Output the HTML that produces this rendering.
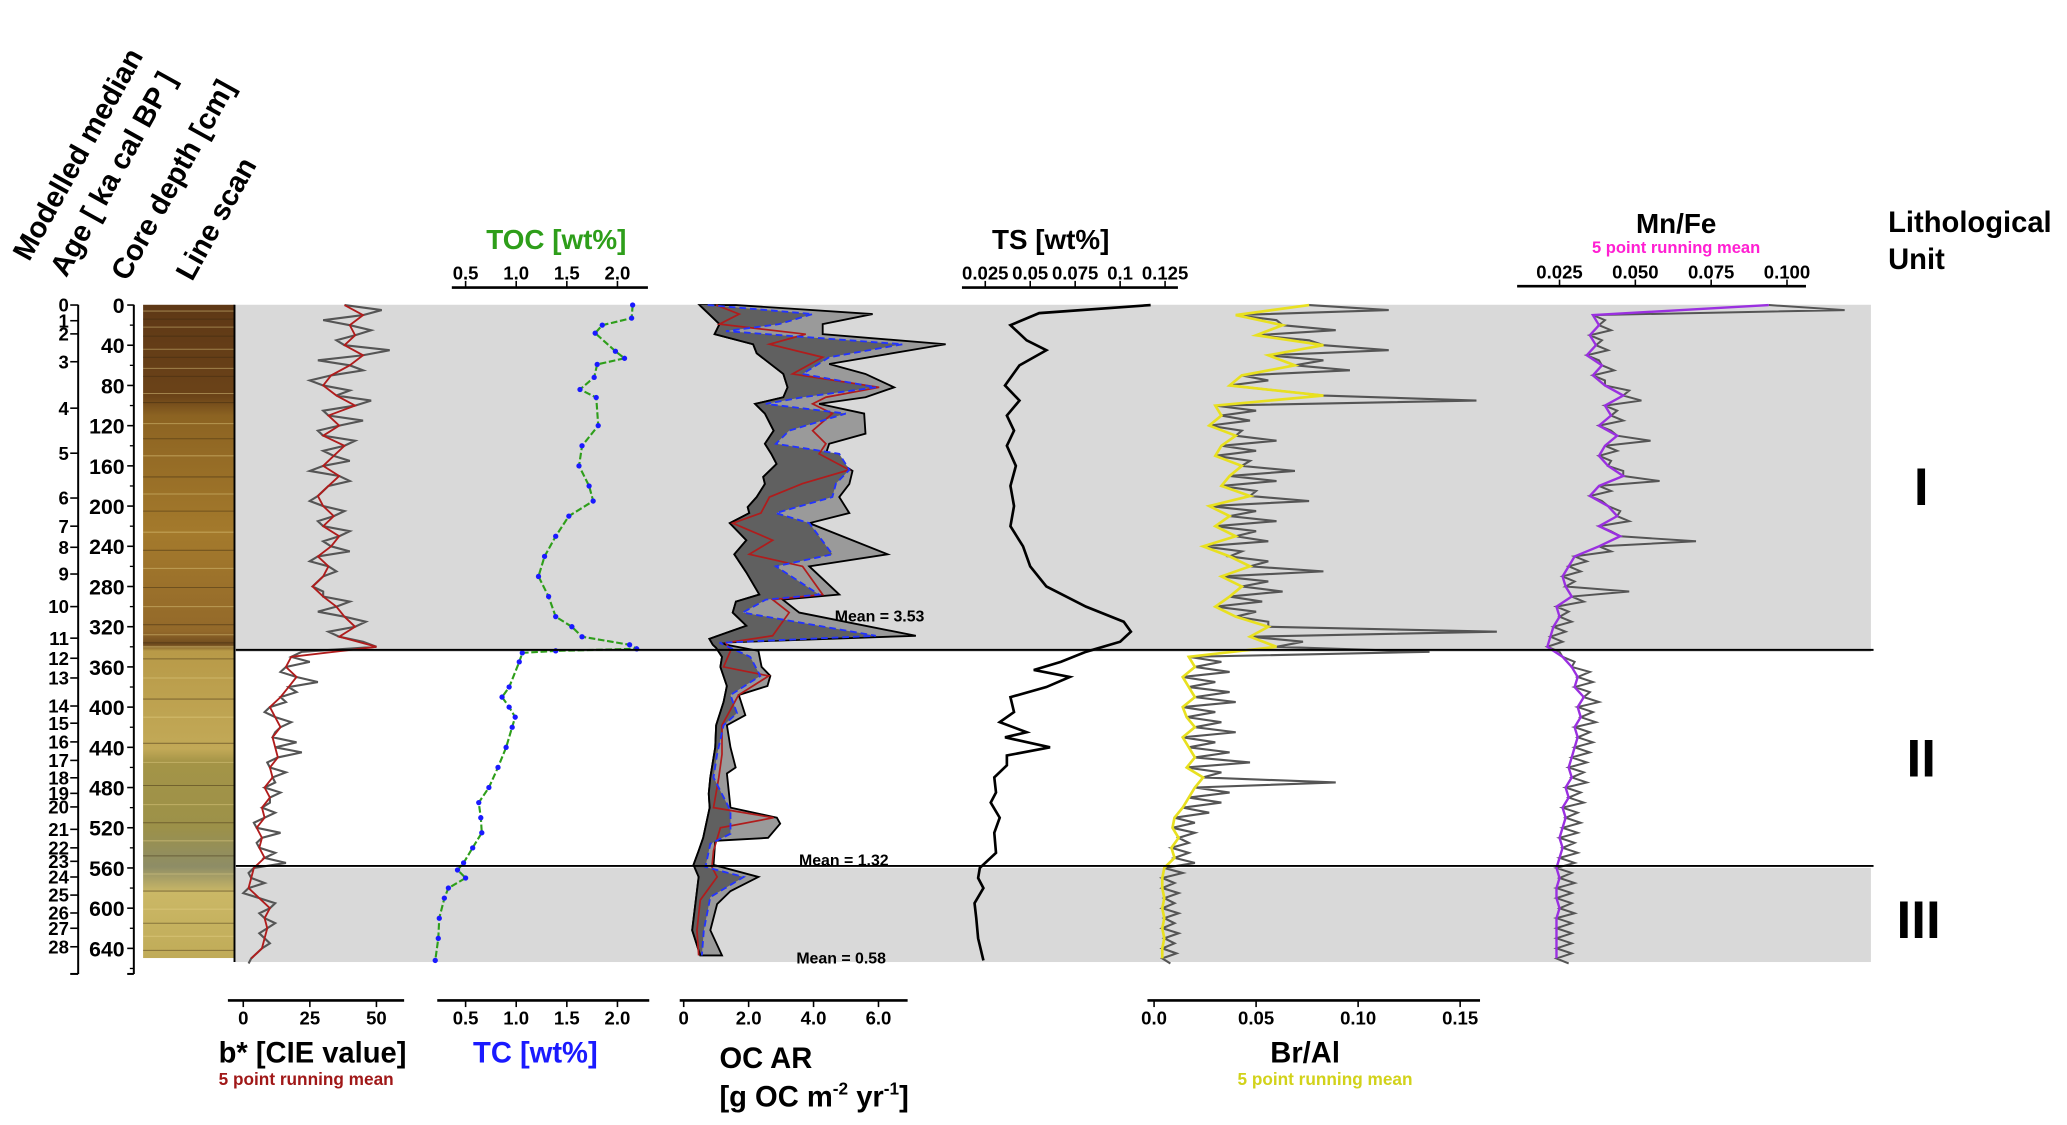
<!DOCTYPE html>
<html><head><meta charset="utf-8"><style>
html,body{margin:0;padding:0;background:#fff}
svg{display:block;font-family:"Liberation Sans",Arial,sans-serif;font-weight:bold}
</style></head><body>
<svg id="chart" width="2067" height="1125" viewBox="0 0 1560 849" preserveAspectRatio="none" xmlns="http://www.w3.org/2000/svg">
<defs>
<linearGradient id="scanGrad" x1="0" y1="0" x2="0" y2="1">
<stop offset="0" stop-color="#5e3816"/><stop offset="0.14" stop-color="#6b4318"/><stop offset="0.17" stop-color="#8c6322"/>
<stop offset="0.35" stop-color="#a47a2c"/><stop offset="0.5" stop-color="#93692a"/><stop offset="0.52" stop-color="#6e4a1e"/>
<stop offset="0.53" stop-color="#b89a48"/><stop offset="0.68" stop-color="#c2a957"/><stop offset="0.7" stop-color="#a49447"/>
<stop offset="0.8" stop-color="#9c9149"/><stop offset="0.86" stop-color="#8e8d66"/><stop offset="0.9" stop-color="#cbb866"/><stop offset="1" stop-color="#c0ab58"/>
</linearGradient>
</defs>
<g id="static">
<rect x="178" y="230" width="1234" height="262" fill="#d9d9d9"/>
<rect x="178" y="655" width="1234" height="71" fill="#d9d9d9"/>
<rect x="108" y="230" width="69" height="493" fill="url(#scanGrad)"/>
<g id="scanStripes"></g>
<line x1="177" y1="230" x2="177" y2="726" stroke="#000" stroke-width="1.5"/>

<g font-size="22" fill="#000">
<text transform="translate(22,198) rotate(-61)">Modelled median</text>
<text transform="translate(50,210) rotate(-61)">Age [ ka cal BP ]</text>
<text transform="translate(96,213) rotate(-61)">Core depth [cm]</text>
<text transform="translate(145,213) rotate(-61)">Line scan</text>
</g>
<text x="367" y="188" font-size="21" fill="#2e9e1a">TOC [wt%]</text>
<text x="793" y="188" font-size="21" text-anchor="middle">TS [wt%]</text>
<text x="1265" y="176" font-size="21" text-anchor="middle">Mn/Fe</text>
<text x="1265" y="191" font-size="12.5" text-anchor="middle" fill="#ff1fd2">5 point running mean</text>
<text x="1425" y="175" font-size="22">Lithological</text>
<text x="1425" y="203" font-size="22">Unit</text>
<text x="1450" y="381" font-size="40" text-anchor="middle">I</text>
<text x="1450" y="586" font-size="40" text-anchor="middle">II</text>
<text x="1448" y="708" font-size="40" text-anchor="middle">III</text>

<text x="165" y="802" font-size="22">b* [CIE value]</text>
<text x="165" y="819" font-size="13" fill="#a01818">5 point running mean</text>
<text x="357" y="802" font-size="22" fill="#1a1aff">TC [wt%]</text>
<text x="543" y="806" font-size="22">OC AR</text>
<text x="543" y="835" font-size="22">[g OC m<tspan font-size="13" dy="-9">-2</tspan><tspan dy="9"> yr</tspan><tspan font-size="13" dy="-9">-1</tspan><tspan dy="9">]</tspan></text>
<text x="985" y="802" font-size="22" text-anchor="middle">Br/Al</text>
<text x="1000" y="819" font-size="13" fill="#d2d21a" text-anchor="middle">5 point running mean</text>
<text x="630" y="469" font-size="12">Mean = 3.53</text>
<text x="603" y="653" font-size="12">Mean = 1.32</text>
<text x="601" y="727" font-size="12">Mean = 0.58</text>
</g>
<g id="marks"></g>
<g id="axes"></g>
</svg>
<script>
// ---- data ----
const ageLabels=[0,1,2,3,4,5,6,7,8,9,10,11,12,13,14,15,16,17,18,19,20,21,22,23,24,25,26,27,28];
const ageDepths=[0,15.6,28.7,56.4,102.6,147.4,192,220,241,267.6,300,331.4,351.4,371,398.9,416,434.6,453,470.3,485.8,499.3,521.6,540,553.4,569,587,604.8,620,638.4];
const depthLabels=[0,40,80,120,160,200,240,280,320,360,400,440,480,520,560,600,640];
const unitBoundaries=[343,558];
const scanStripeDepths=[6,14,22,31,44,52,63,71,88,97,118,133,150,171,188,205,226,244,262,281,300,318,328,336,340,352,371,392,410,436,455,478,497,515,533,548,566,583,601,615,628,642];
const bTicks=[0,25,50];
const tocTicks=[0.5,1.0,1.5,2.0];
const ocTicks=[0,2.0,4.0,6.0];
const tsTicks=[0.025,0.05,0.075,0.1,0.125];
const tsTickLabels=["0.025","0.05","0.075","0.1","0.125"];
const brTicks=[0,0.05,0.10,0.15];
const mnTicks=[0.025,0.050,0.075,0.100];

const bMean=[38,45,40,42,38,45,40,33,30,35,42,32,36,30,38,34,30,36,32,28,30,34,30,36,33,28,32,30,26,30,35,38,42,36,50,18,16,20,17,14,10,12,14,11,12,13,10,11,8,10,7,8,5,7,6,8,4,3,2,6,10,8,9,8,7,3];
const bRaw=[52,30,48,35,55,28,45,25,40,48,30,45,28,42,30,40,25,40,30,25,38,28,40,30,40,25,35,28,30,40,28,46,32,45,22,25,14,28,20,16,8,18,12,20,22,9,16,12,14,10,12,4,14,5,12,16,2,8,0,12,6,12,6,10,5,2];

const tocDepth=[0,13,20,28,46,53,59,72,84,92,120,140,160,180,195,210,230,250,270,290,310,320,330,338,342,344,346,355,380,390,400,410,420,440,460,480,495,510,525,540,555,562,570,580,590,610,630,652];
const tocVal=[2.15,2.14,1.85,1.78,1.98,2.07,1.8,1.77,1.63,1.79,1.81,1.65,1.62,1.72,1.76,1.52,1.39,1.28,1.22,1.32,1.39,1.55,1.65,2.12,2.19,1.39,1.06,1.03,0.93,0.86,0.93,0.99,0.96,0.9,0.82,0.73,0.63,0.65,0.66,0.57,0.48,0.42,0.5,0.33,0.29,0.24,0.23,0.2];

const ocMaxD=[0,9,19,29,39,58.6,68.6,81.8,91.7,98.3,108,128,138,148,165,178,191,207,217,248,260,288,293,306,329,336,344,360,369,379,388,408,418,440,460,466,500,510,516,530,533,557,569,583,596,622,647];
const ocMax=[1.61,5.82,4.28,4.28,8.07,4.48,5.6,6.48,5.6,4.17,5.56,5.6,4.48,4.38,5.2,5.1,4.79,5.1,3.87,6.28,3.87,4.79,3.05,3.56,7.15,1.0,2.3,2.4,2.67,2.58,1.7,1.9,1.33,1.44,1.6,1.33,1.44,2.87,2.97,2.6,0.97,0.92,2.3,1.44,1.03,0.82,1.18];
const ocMinD=[0,19,29,39,48,68.6,81.8,91.7,98.3,108,125,138,148,158,171,178,191,201,207,217,234,248,266,288,295,306,319,332,338,341,350,360,379,395,418,440,470,486,500,530,543,557,569,596,622,647];
const ocMin=[0.49,1.1,0.95,2.14,2.25,3.07,3.2,3.07,2.2,2.5,2.77,2.5,2.7,2.86,2.45,2.5,2.25,1.97,2.02,1.42,1.93,1.56,1.93,2.33,1.61,1.51,1.93,0.79,0.9,1.0,1.18,1.13,1.33,1.23,1.0,0.97,0.82,0.77,0.8,0.6,0.46,0.3,0.46,0.36,0.26,0.51];
const ocTCD=[0,9,19,26,39,52,68.6,81.8,91.7,98.3,108,125,138,148,164,177.5,191,207,217,248,260,288,293,306,329,336,350,369,388,406,418,447,470,503,526,536,559,569,589,622,647];
const ocTC=[0.74,3.97,2.94,1.3,6.74,4.48,3.66,5.92,3.66,2.53,4.99,3.25,2.84,4.79,5.1,4.69,4.58,2.84,3.87,4.58,2.84,4.17,2.53,1.82,5.92,1.1,2.05,2.36,1.44,1.64,1.23,1.03,0.92,1.44,1.44,0.82,0.67,1.85,0.82,0.62,0.56];
const ocMeanD=[0,9,19,29,39,52,68.6,81.8,91.7,98.3,108,125,138,148,164,177.5,191,207,217,234,248,260,288,293,306,329,336,344,360,369,388,418,447,470,500,510,520,543,559,569,592,622,647];
const ocMean=[1.0,1.71,1.1,3.76,2.64,4.28,3.35,6.02,4.38,3.97,4.58,3.97,4.38,4.17,5.1,3.66,2.64,2.38,1.51,2.74,2.02,3.66,4.28,2.74,3.25,2.74,1.3,1.44,1.23,2.62,1.69,1.18,1.18,1.08,0.92,2.77,1.13,0.92,0.87,1.03,0.51,0.41,0.46];

const tsDepth=[0,8,20,35,45,60,80,95,110,125,140,160,180,200,220,240,260,280,300,315,325,335,345,355,363,370,380,390,405,415,425,430,440,448,458,470,485,495,510,525,545,560,570,580,595,610,630,652];
const tsVal=[0.117,0.055,0.039,0.048,0.059,0.044,0.036,0.044,0.037,0.041,0.037,0.042,0.039,0.041,0.039,0.046,0.050,0.059,0.081,0.102,0.106,0.100,0.081,0.067,0.052,0.072,0.059,0.039,0.041,0.033,0.048,0.036,0.061,0.037,0.037,0.030,0.031,0.028,0.033,0.030,0.031,0.022,0.021,0.024,0.019,0.020,0.021,0.024];

const brMean=[.076,.040,.063,.050,.083,.056,.069,.043,.037,.083,.030,.033,.027,.040,.033,.030,.043,.037,.033,.047,.027,.037,.030,.040,.024,.037,.047,.033,.043,.037,.030,.040,.056,.047,.060,.017,.020,.014,.017,.020,.014,.016,.020,.014,.017,.020,.016,.024,.020,.017,.014,.010,.009,.012,.0085,.010,.005,.004,.004,.005,.004,.005,.004,.005,.004,.004];
const brRaw=[.115,.060,.089,.076,.115,.083,.096,.056,.060,.158,.050,.047,.043,.060,.050,.047,.069,.060,.050,.076,.050,.060,.050,.056,.043,.056,.083,.056,.063,.053,.050,.056,.168,.073,.135,.033,.037,.030,.037,.040,.030,.033,.040,.030,.037,.047,.033,.089,.037,.033,.027,.020,.020,.017,.017,.020,.014,.010,.012,.010,.012,.010,.012,.010,.011,.008];

const mnMean=[.094,.036,.038,.035,.037,.034,.039,.036,.040,.046,.040,.042,.038,.044,.040,.038,.041,.046,.038,.035,.041,.044,.038,.045,.038,.030,.028,.026,.027,.029,.024,.025,.023,.022,.021,.026,.029,.031,.030,.033,.031,.032,.030,.031,.030,.029,.028,.029,.027,.028,.026,.027,.026,.025,.026,.025,.024,.025,.024,.024,.025,.024,.024,.024,.024,.024];
const mnRaw=[.119,.040,.042,.039,.041,.038,.043,.040,.048,.052,.044,.046,.042,.055,.044,.042,.046,.058,.042,.039,.045,.048,.042,.070,.042,.034,.032,.030,.048,.033,.028,.029,.027,.026,.025,.030,.035,.036,.035,.038,.036,.037,.035,.036,.035,.034,.033,.034,.032,.033,.031,.032,.031,.030,.031,.030,.029,.030,.029,.029,.030,.029,.029,.029,.029,.028];

// ---- scales ----
const NS='http://www.w3.org/2000/svg';
const yD=d=>230.2+0.7586*d;
const xB=v=>183.6+v*2.01;
const xTOC=v=>351.4+(v-0.5)*76.4;
const xOC=v=>516+v*24.5;
const xTS=v=>743.6+(v-0.025)*1357;
const xBR=v=>871+v*1540;
const xMN=v=>1177+(v-0.025)*2289;
const marks=document.getElementById('marks');
const axes=document.getElementById('axes');
function mk(tag,attrs,parent){const e=document.createElementNS(NS,tag);for(const k in attrs)e.setAttribute(k,attrs[k]);(parent||marks).appendChild(e);return e;}
function pts(ds,vs,xf){return ds.map((d,i)=>xf(vs[i]).toFixed(1)+','+yD(d).toFixed(1)).join(' ');}
function stepD(n,off){return Array.from({length:n},(_,i)=>i*10+off);}
function interleave(meanArr,rawArr,xf){const p=[];for(let i=0;i<meanArr.length;i++){p.push(xf(meanArr[i]).toFixed(1)+','+yD(i*10).toFixed(1));if(i<rawArr.length)p.push(xf(rawArr[i]).toFixed(1)+','+yD(i*10+5).toFixed(1));}return p.join(' ');}

// scan stripes
const stripesG=document.getElementById('scanStripes');
scanStripeDepths.forEach((d,i)=>{const s=mk('line',{x1:108,x2:177,y1:yD(d),y2:yD(d),stroke:(i%2?'#3a2810':'#e6d28a'),'stroke-width':0.8,'stroke-opacity':0.45},stripesG);

});

// b*
let e=mk('polyline',{points:interleave(bMean,bRaw,xB),fill:'none',stroke:'#555','stroke-width':1.6});


e=mk('polyline',{points:pts(stepD(bMean.length,0),bMean,xB),fill:'none',stroke:'#b01c1c','stroke-width':1.4});



// TOC / TC
e=mk('polyline',{points:pts(tocDepth,tocVal,xTOC),fill:'none',stroke:'#2e9e1a','stroke-width':1.6,'stroke-dasharray':'5,2'});


tocDepth.forEach((d,i)=>{const c=mk('circle',{cx:xTOC(tocVal[i]),cy:yD(d),r:2,fill:'#1a1aff'});

});

// OC AR
const envPts=pts(ocMaxD,ocMax,xOC)+' '+pts(ocMinD.slice().reverse(),ocMin.slice().reverse(),xOC);
e=mk('polygon',{points:envPts,fill:'#9a9a9a',stroke:'#000','stroke-width':1.4});


const innerPts=pts(ocTCD,ocTC,xOC)+' '+pts(ocMinD.slice().reverse(),ocMin.slice().reverse(),xOC);
e=mk('polygon',{points:innerPts,fill:'#606060',stroke:'none'});


e=mk('polyline',{points:pts(ocMinD,ocMin,xOC),fill:'none',stroke:'#000','stroke-width':1.4});


e=mk('polyline',{points:pts(ocMeanD,ocMean,xOC),fill:'none',stroke:'#b01c1c','stroke-width':1.3});


e=mk('polyline',{points:pts(ocTCD,ocTC,xOC),fill:'none',stroke:'#2233ff','stroke-width':1.4,'stroke-dasharray':'5,3'});



// TS
e=mk('polyline',{points:pts(tsDepth,tsVal,xTS),fill:'none',stroke:'#000','stroke-width':2});



// Br/Al
e=mk('polyline',{points:interleave(brMean,brRaw,xBR),fill:'none',stroke:'#555','stroke-width':1.6});


e=mk('polyline',{points:pts(stepD(brMean.length,0),brMean,xBR),fill:'none',stroke:'#e8e020','stroke-width':2});



// Mn/Fe
e=mk('polyline',{points:interleave(mnMean,mnRaw,xMN),fill:'none',stroke:'#555','stroke-width':1.5});


e=mk('polyline',{points:pts(stepD(mnMean.length,0),mnMean,xMN),fill:'none',stroke:'#9a30e0','stroke-width':1.8});



// unit boundaries
unitBoundaries.forEach(d=>{const l=mk('line',{x1:178,x2:1414,y1:yD(d),y2:yD(d),stroke:'#000','stroke-width':1.5},axes);

});

// axes
function txt(x,y,s,size,anchor,parent){const t=mk('text',{x:x,y:y,'font-size':size,'text-anchor':anchor||'middle'},parent||axes);t.textContent=s;return t;}
e=mk('line',{x1:59,x2:59,y1:230,y2:735,stroke:'#000','stroke-width':1.5},axes);


mk('line',{x1:53,x2:59,y1:735,y2:735,stroke:'#000','stroke-width':1.5},axes);
ageLabels.forEach((a,i)=>{const y=yD(ageDepths[i]);mk('line',{x1:53,x2:59,y1:y,y2:y,stroke:'#000','stroke-width':1.2},axes);
const t=txt(52,y+5,String(a),14,'end');

});
e=mk('line',{x1:101,x2:101,y1:230,y2:735,stroke:'#000','stroke-width':1.5},axes);


mk('line',{x1:96,x2:101,y1:735,y2:735,stroke:'#000','stroke-width':1.5},axes);
depthLabels.forEach(d=>{const y=yD(d);mk('line',{x1:96,x2:101,y1:y,y2:y,stroke:'#000','stroke-width':1.2},axes);
mk('line',{x1:98,x2:101,y1:yD(d+20),y2:yD(d+20),stroke:'#000','stroke-width':1},axes);
const t=txt(94,y+6,String(d),16,'end');

});

function hAxis(name,x1,x2,y,ticks,labels,xf,top){
 const l=mk('line',{x1:x1,x2:x2,y1:y,y2:y,stroke:'#000','stroke-width':2},axes);
 
 
 ticks.forEach((v,i)=>{const x=xf(v);mk('line',{x1:x,x2:x,y1:y,y2:top?y-5:y+5,stroke:'#000','stroke-width':1.2},axes);
  const t=txt(x,top?y-6:y+18,labels[i],14,'middle');
  
  });
}
hAxis('bstar-axis',172,305,755,bTicks,bTicks.map(String),xB,false);
hAxis('tc-axis',330,490,755,tocTicks,tocTicks.map(v=>v.toFixed(1)),xTOC,false);
hAxis('toc-axis',341,489,217,tocTicks,tocTicks.map(v=>v.toFixed(1)),xTOC,true);
hAxis('ocar-axis',513,685,755,ocTicks,['0','2.0','4.0','6.0'],xOC,false);
hAxis('ts-axis',726,889,217,tsTicks,tsTickLabels,xTS,true);
hAxis('bral-axis',866,1117,755,brTicks,['0.0','0.05','0.10','0.15'],xBR,false);
hAxis('mnfe-axis',1145,1363,216,mnTicks,['0.025','0.050','0.075','0.100'],xMN,true);
</script>
</body></html>
